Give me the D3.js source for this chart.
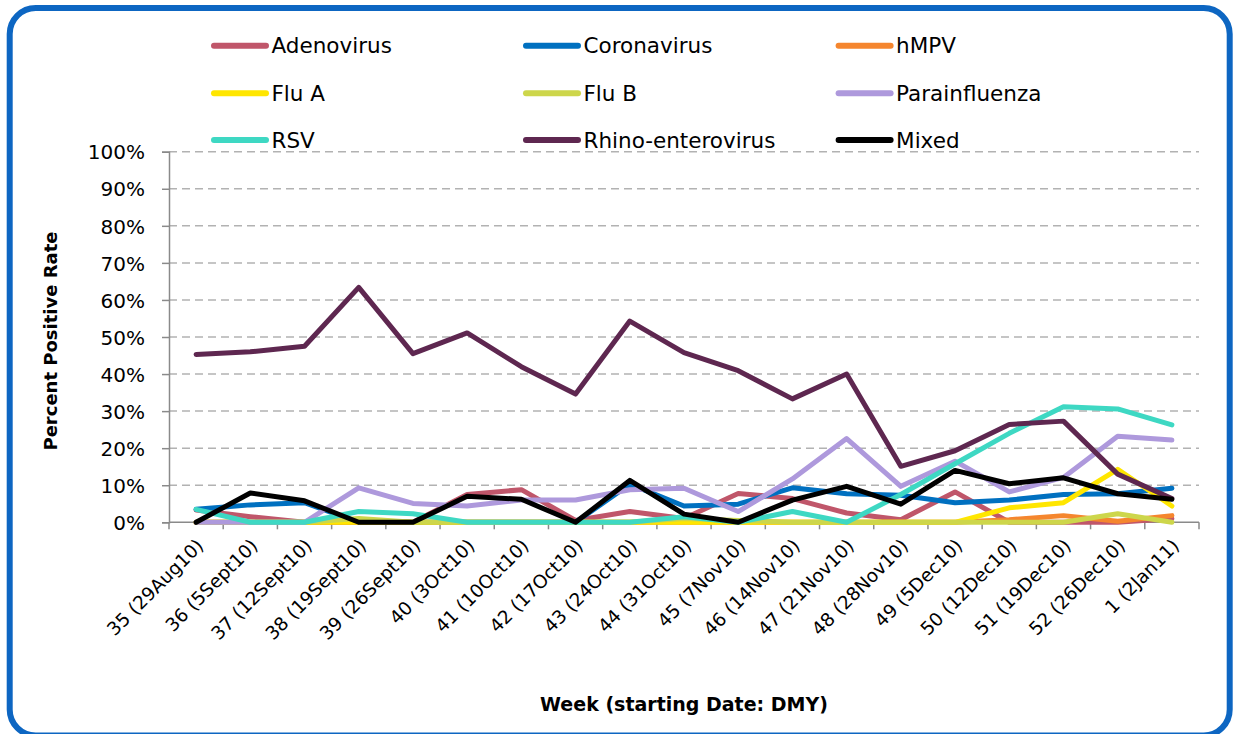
<!DOCTYPE html>
<html><head><meta charset="utf-8">
<script src="https://cdn.jsdelivr.net/npm/d3@7"></script>
<style>
html,body{margin:0;padding:0;background:#fff;}
svg{display:block;font-family:"DejaVu Sans",sans-serif;}
</style></head>
<body>
<svg id="chart" width="1234" height="734"></svg>
<script>
const weeks = ["35 (29Aug10)","36 (5Sept10)","37 (12Sept10)","38 (19Sept10)","39 (26Sept10)","40 (3Oct10)","41 (10Oct10)","42 (17Oct10)","43 (24Oct10)","44 (31Oct10)","45 (7Nov10)","46 (14Nov10)","47 (21Nov10)","48 (28Nov10)","49 (5Dec10)","50 (12Dec10)","51 (19Dec10)","52 (26Dec10)","1 (2Jan11)"];
const seriesNames = ["Adenovirus","Coronavirus","hMPV","Flu A","Flu B","Parainfluenza","RSV","Rhino-enterovirus","Mixed"];
const seriesColors = ["#C0566A","#0070C0","#F5862E","#FFE600","#CDD64B","#AE99DC","#3ED8C3","#5E2750","#000000"];
const adenovirus   = [3.3,1.5,0,0,0,7.5,8.8,0.5,2.9,1,7.8,6.4,2.5,0.7,8.2,0,0,0,1];
const coronavirus  = [3.5,4.7,5.3,0,0,0,0,0,10.3,4.4,4.9,9.3,7.7,7.3,5.3,6,7.5,7.7,9.2];
const hmpv         = [0,0,0,0,0,0,0,0,0,0,0,0,0,0,0,0.7,1.8,0.3,1.8];
const fluA         = [0,0,0,0,0,0,0,0,0,0,0,0,0,0,0,3.9,5.3,14.3,4.4];
const fluB         = [0,0,0,1,0,0,0,0,0,1,0.5,0,0,0,0,0,0,2.3,0];
const parainfluenza= [0,0,0,9.3,5.1,4.4,6,6,8.8,9.2,2.9,11.7,22.6,9.7,16.5,8.2,12.1,23.2,22.2];
const rsv          = [3.5,0,0,2.9,2.3,0,0,0,0,1.5,0,2.9,0,7.5,15.8,24,31.2,30.6,26.3];
const rhino        = [45.3,46,47.5,63.4,45.5,51.1,42,34.6,54.3,45.8,40.9,33.3,40,15.1,19.3,26.4,27.3,13,6.4];
const mixed        = [0,7.9,5.8,0,0,7,6.2,0,11.3,2.2,0,6,9.7,4.9,14,10.4,12,7.7,6.2];
const yTicks = [0,10,20,30,40,50,60,70,80,90,100];

const seriesValues = [adenovirus,coronavirus,hmpv,fluA,fluB,parainfluenza,rsv,rhino,mixed];

(function(){
const svg = d3.select("#chart");

svg.append("rect").attr("x",9.7).attr("y",8).attr("width",1220).attr("height",727.5)
  .attr("rx",26).attr("ry",26).attr("fill","#fff").attr("stroke","#0D66C2").attr("stroke-width",6);

const pL=169, pR=1199, pT=151.7, pB=522.3;
const x = d3.scaleBand().domain(weeks).range([pL,pR]).padding(0);
const y = d3.scaleLinear().domain([0,100]).range([pB,pT]);
const cx = d => x(d)+x.bandwidth()/2;

svg.append("g").selectAll("line").data(yTicks.filter(t=>t>0)).join("line")
  .attr("x1",pL).attr("x2",pR).attr("y1",d=>y(d)).attr("y2",d=>y(d))
  .attr("stroke","#B2B2B2").attr("stroke-width",1.5).attr("stroke-dasharray","8,5");

const yAxis = svg.append("g").attr("transform",`translate(${pL},0)`)
  .call(d3.axisLeft(y).tickValues(yTicks).tickFormat(d=>d+"%").tickSize(7).tickPadding(0));
yAxis.select(".domain").attr("stroke","#8A8A8A").attr("stroke-width",1.5);
yAxis.selectAll(".tick line").attr("stroke","#8A8A8A").attr("stroke-width",1.5);
yAxis.selectAll(".tick text").attr("x",-24).attr("dy","0.36em")
  .attr("font-size",20).attr("font-family","DejaVu Sans").attr("fill","#000");

const xEdges = weeks.map(w=>x(w)).concat([pR]);
const xg = svg.append("g");
xg.append("line").attr("x1",pL).attr("x2",pR).attr("y1",pB).attr("y2",pB)
  .attr("stroke","#8A8A8A").attr("stroke-width",1.5);
xg.selectAll("line.tk").data(xEdges).join("line").attr("class","tk")
  .attr("x1",d=>d).attr("x2",d=>d).attr("y1",pB).attr("y2",pB+7)
  .attr("stroke","#8A8A8A").attr("stroke-width",1.5);
xg.selectAll("text").data(weeks).join("text")
  .attr("transform",d=>`translate(${cx(d)+4},${pB+20}) rotate(-45)`)
  .attr("text-anchor","end").attr("dy","0.35em")
  .attr("font-size",18.5).attr("fill","#000").text(d=>d);

const line = d3.line().x((d,i)=>cx(weeks[i])).y(d=>y(d));
svg.append("g").selectAll("path").data(seriesValues).join("path")
  .attr("d",d=>line(d)).attr("fill","none")
  .attr("stroke",(d,i)=>seriesColors[i]).attr("stroke-width",5)
  .attr("stroke-linejoin","round").attr("stroke-linecap","round");

svg.append("text").attr("x",(pL+pR)/2).attr("y",711).attr("text-anchor","middle")
  .attr("font-size",19).attr("font-weight","bold").text("Week (starting Date: DMY)");
svg.append("text").attr("transform","translate(51,341) rotate(-90)").attr("text-anchor","middle")
  .attr("dy","0.36em").attr("font-size",18).attr("font-weight","bold").text("Percent Positive Rate");

const colX = [214,526,838.6];
const rowY = [45.7,93.3,140];
const lg = svg.append("g").selectAll("g").data(seriesNames).join("g")
  .attr("transform",(d,i)=>`translate(${colX[i%3]},${rowY[Math.floor(i/3)]})`);
lg.append("line").attr("x1",0).attr("x2",52).attr("y1",0).attr("y2",0)
  .attr("stroke",(d,i)=>seriesColors[i]).attr("stroke-width",6).attr("stroke-linecap","round");
lg.append("text").attr("x",57.5).attr("dy","0.36em").attr("font-size",21.5).attr("fill","#000").text(d=>d);
})();
</script>
</body></html>
